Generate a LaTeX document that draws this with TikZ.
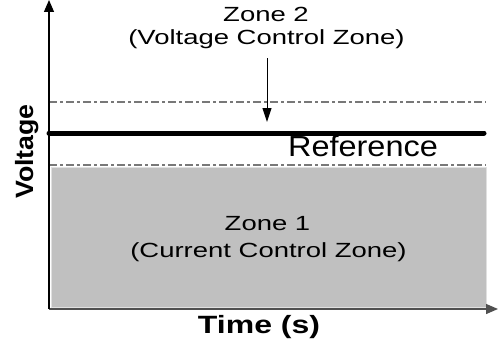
\documentclass[tikz,border=0pt]{standalone}
\usepackage{fontspec}
\setmainfont{Liberation Sans}
\newfontfamily\zonefont[FakeStretch=1.34]{Liberation Sans}
\newfontfamily\reffont[FakeStretch=1.12]{Liberation Sans}
\newfontfamily\timefont[FakeStretch=1.28]{Liberation Sans}
\newfontfamily\voltfont[FakeStretch=1.07]{Liberation Sans}
\usetikzlibrary{arrows.meta,positioning}
\definecolor{zonegray}{RGB}{192,192,192}
\definecolor{limitgray}{RGB}{120,120,120}
\definecolor{axisgray}{RGB}{80,80,80}
\tikzstyle{zonebox} = [rectangle, inner sep=0pt, fill=zonegray, draw=black!12, line width=0.6pt]
\tikzstyle{zonetext} = [inner sep=0pt, anchor=base, font=\zonefont\fontsize{20.5}{24}\selectfont]
\tikzstyle{reftext} = [inner sep=0pt, anchor=base, font=\reffont\fontsize{29}{34}\selectfont]
\tikzstyle{axislabel} = [inner sep=0pt, anchor=base, font=\bfseries\fontsize{25}{30}\selectfont]
\tikzstyle{limit} = [line width=1.2pt, color=limitgray, dash pattern=on 8pt off 3pt on 3pt off 3pt]
\tikzstyle{refline} = [line width=5pt, line cap=round]
\tikzstyle{axis} = [line width=1.3pt, -{Triangle[length=12pt,width=10pt]}]
\tikzstyle{arrow} = [line width=1pt, -{Triangle[length=14pt,width=9pt]}]

\begin{document}
\begin{tikzpicture}[x=1pt, y=-1pt]
\useasboundingbox (0,0) rectangle (498,345);
\coordinate (origin) at (49,309);
\coordinate (ytip) at (49,0);
\coordinate (xtip) at (498,309);
\coordinate (reftip) at (267,122);
% zone 1 area and limits
\node (zone1box) [zonebox, minimum width=435pt, minimum height=140pt, anchor=north west] at (51,167) {};
\draw [limit] (49,102) -- (486,102);
\draw [limit] (49,165) -- (486,165);
\draw [refline] (49,133) -- (484,133);
% axes
\draw [axis, color=axisgray] (origin) -- (xtip);
\draw [axis] (origin) -- (ytip);
% texts
\node (zone2a) [zonetext] at (266,22) {Zone 2};
\node (zone2b) [zonetext] at (266.5,45) {(Voltage Control Zone)};
\node (ref) [reftext] at (363,156) {Reference};
\node (zone1a) [zonetext] at (267.5,230) {Zone 1};
\node (zone1b) [zonetext] at (268.5,257) {(Current Control Zone)};
\node (time) [axislabel, font=\timefont\bfseries\fontsize{25}{30}\selectfont] at (259,333) {Time (s)};
\node (volt) [axislabel, font=\voltfont\bfseries\fontsize{25}{30}\selectfont, rotate=90] at (33,151.5) {Voltage};
\draw [arrow, shorten <=9pt] (zone2b.south -| reftip) -- (reftip);
\end{tikzpicture}
\end{document}
